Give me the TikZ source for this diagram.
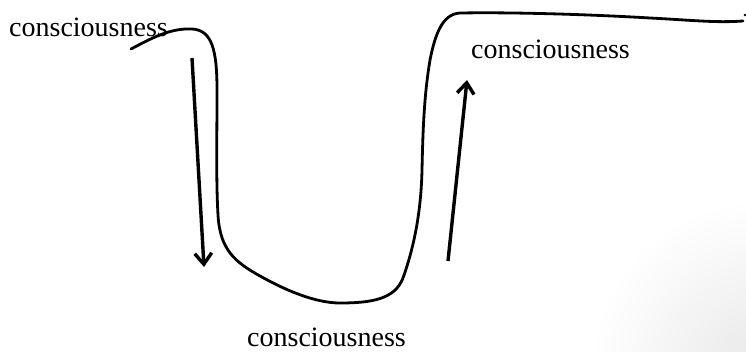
\documentclass[tikz,border=0pt]{standalone}
\usepackage{fontspec}
\setmainfont{Liberation Serif}
\usetikzlibrary{arrows.meta}
\begin{document}
\begin{tikzpicture}[x=1pt,y=-1pt,
  lbl/.style={anchor=base west,inner sep=0pt,font=\fontsize{28}{30}\selectfont},
  curve/.style={line width=2.8pt,line cap=round,line join=round},
  arr/.style={line width=3.4pt,-{Straight Barb[length=11pt,width=17pt,line width=3.4pt]}}]
\useasboundingbox (0,0) rectangle (746,351);
\fill[white] (0,0) rectangle (746,351);
\begin{scope}
\clip (0,0) rectangle (746,351);
\shade[inner color=black!9,outer color=white] (760,370) circle (170);
\end{scope}
% labels
\node[lbl] (l1) at (9,36) {consciousness};
\node[lbl] (l2) at (471,58) {consciousness};
\node[lbl] (l3) at (247,346) {consciousness};
% curve
\coordinate (c0) at (131,49);
\coordinate (c1) at (743,21);
\draw[curve] (c0) .. controls (152,38) and (170,28) .. (192,29)
  .. controls (212,30) and (217,50) .. (217,90)
  .. controls (217,140) and (216,180) .. (218,215)
  .. controls (220,250) and (235,262) .. (260,276)
  .. controls (285,290) and (315,303) .. (340,303)
  .. controls (372,303) and (395,299) .. (403,278)
  .. controls (413,250) and (421,215) .. (422,170)
  .. controls (423,120) and (425,90) .. (430,60)
  .. controls (435,35) and (442,14) .. (460,13)
  .. controls (520,12) and (600,15) .. (650,18)
  .. controls (690,20) and (715,23) .. (c1);
\fill (745,15) circle (1.3);
% arrows
\coordinate (a1s) at (192,58);
\coordinate (a1e) at (204,267);
\coordinate (a2s) at (448,261);
\coordinate (a2e) at (467,80);
\draw[arr] (a1s) -- (a1e);
\draw[arr] (a2s) -- (a2e);
\end{tikzpicture}
\end{document}
